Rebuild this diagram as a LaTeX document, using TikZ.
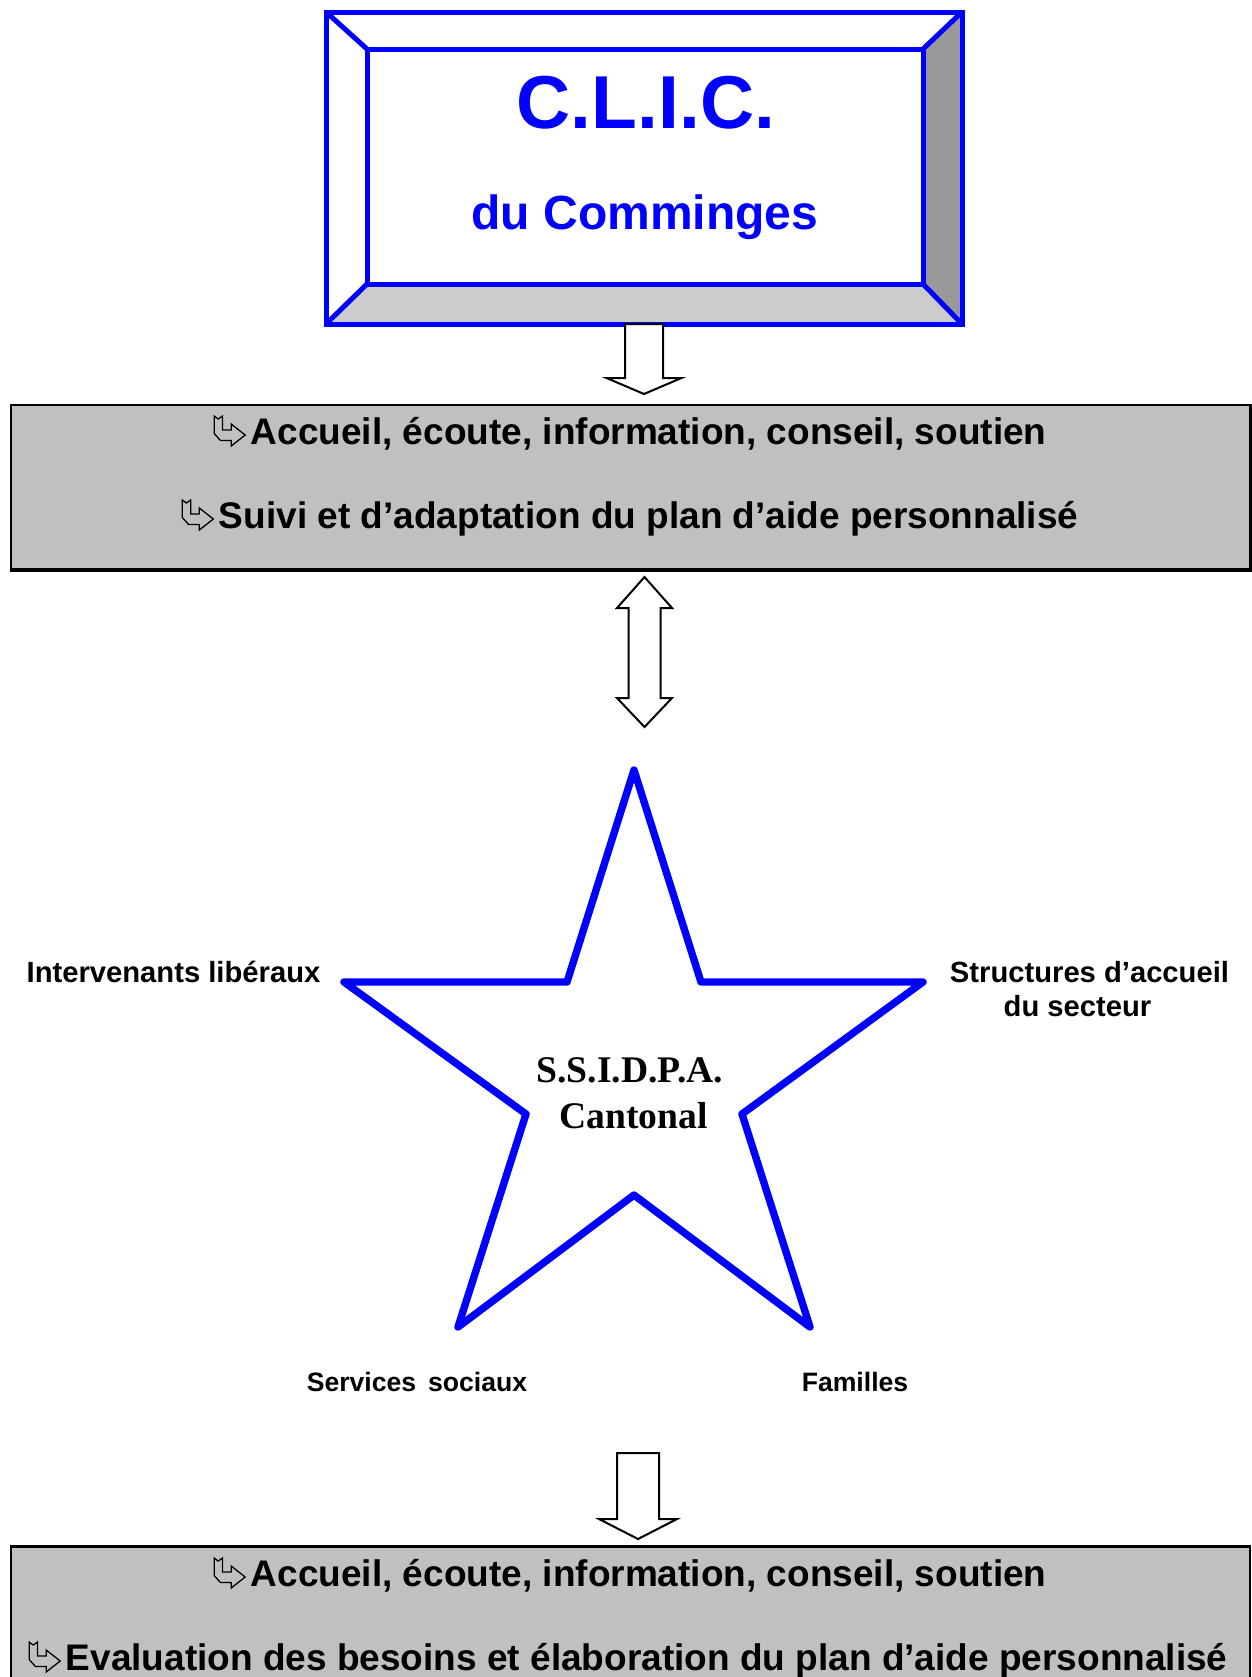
\documentclass[tikz,border=0pt]{standalone}
\usepackage{fontspec}
\setmainfont{Liberation Sans}
\newfontfamily\serifbf{Liberation Serif}
\definecolor{pureblue}{RGB}{0,0,255}
\definecolor{boxgray}{RGB}{192,192,192}
\definecolor{bevlight}{RGB}{204,204,204}
\definecolor{bevdark}{RGB}{153,153,153}
\newcommand{\wgarrow}{\tikz[x=0.5pt,y=0.5pt,baseline=0pt,line width=0.65pt,line join=miter]\draw (0,28)--(4,25)--(8.4,28)--(8.4,14)--(17,14)--(17,20)--(31,9)--(17,-2)--(17,3.6)--(6.2,3.6)--(0,10.5)--cycle;}
\begin{document}
\begin{tikzpicture}[x=0.5pt,y=-0.5pt,
  frame/.style={rectangle,inner sep=0pt,outer sep=0pt},
  bluebox/.style={draw=pureblue,line width=2.5pt,line join=miter},
  blockarrow/.style={draw=black,fill=white,line width=1pt,line join=miter},
  graybox/.style={rectangle,draw=black,fill=boxgray,line width=1pt,inner sep=0pt,outer sep=0pt},
  graytext/.style={anchor=base,inner sep=0pt,font=\fontsize{18.5pt}{22pt}\selectfont\bfseries},
  lbl/.style={anchor=base,inner sep=0pt,font=\fontsize{14.6pt}{17pt}\selectfont\bfseries},
  smalllbl/.style={anchor=base,inner sep=0pt,font=\fontsize{13.3pt}{16pt}\selectfont\bfseries},
  startext/.style={anchor=base,inner sep=0pt,font=\fontsize{18.8pt}{22pt}\selectfont\serifbf\bfseries}]
\useasboundingbox[fill=white] (0,0) rectangle (1252,1677);

% ---- C.L.I.C. framed box ----
\node[frame,minimum width=318pt,minimum height=156pt] (clicouter) at (644,168) {};
\node[frame,minimum width=278pt,minimum height=117.5pt] (clicinner) at (645,166.5) {};
\fill[bevlight] (clicouter.south west) -- (clicinner.south west) -- (clicinner.south east) -- (clicouter.south east) -- cycle;
\fill[bevdark] (clicouter.north east) -- (clicinner.north east) -- (clicinner.south east) -- (clicouter.south east) -- cycle;
\draw[bluebox] (clicouter.north west) rectangle (clicouter.south east);
\draw[bluebox] (clicinner.north west) rectangle (clicinner.south east);
\draw[bluebox] (clicouter.north west) -- (clicinner.north west);
\draw[bluebox] (clicouter.north east) -- (clicinner.north east);
\draw[bluebox] (clicouter.south west) -- (clicinner.south west);
\draw[bluebox] (clicouter.south east) -- (clicinner.south east);
\node[anchor=base,inner sep=0pt,text=pureblue,font=\fontsize{37.5pt}{41pt}\selectfont\bfseries] (clictitle) at (646,128) {C.L.I.C.};
\node[anchor=base,inner sep=0pt,text=pureblue,font=\fontsize{24pt}{28pt}\selectfont\bfseries] (clicsub) at (645,229) {du Comminges};

% ---- arrow 1 ----
\coordinate (a1) at (clicouter.south);
\draw[blockarrow] (a1) ++(-19,0) -- ++(0,54) -- ++(-18.5,0) -- ++(37.5,16) -- ++(37.5,-16) -- ++(-18.5,0) -- ++(0,-54) -- cycle;

% ---- gray box 1 ----
\node[graybox,minimum width=619.5pt,minimum height=82pt] (box1) at (630.5,487) {};
\draw[line width=1.5pt] ([xshift=0.9pt,yshift=0.5pt]box1.north east) -- ([xshift=0.9pt,yshift=-0.9pt]box1.south east) -- ([xshift=-0.5pt,yshift=-0.9pt]box1.south west);
\node[graytext] (b1l1) at (630,444) {\wgarrow\hspace{2.5pt}Accueil, écoute, information, conseil, soutien};
\node[graytext] (b1l2) at (630,528) {\wgarrow\hspace{2.5pt}Suivi et d’adaptation du plan d’aide personnalisé};

% ---- double arrow ----
\coordinate (d1) at (644.5,577);
\draw[blockarrow] (d1) -- ++(27.5,31) -- ++(-11.5,0) -- ++(0,90) -- ++(11.5,0) -- ++(-27.5,29) -- ++(-27.5,-29) -- ++(11.5,0) -- ++(0,-90) -- ++(-11.5,0) -- cycle;

% ---- star ----
\coordinate (starc) at (634,1090);
\draw[pureblue,line width=3.7pt,line join=round] (634,770) -- (701,982) -- (923,982) -- (742,1114) -- (810,1327) -- (634,1195) -- (458,1327) -- (526,1114) -- (344,982) -- (567,982) -- cycle;
\node[startext] (ss1) at (630,1082) {S.S.I.D.P.A.};
\node[startext] (ss2) at (633.5,1128) {Cantonal};

% ---- labels ----
\node[lbl] (lib) at (173.5,982) {Intervenants libéraux};
\node[lbl] (struct1) at (1089.5,982) {Structures d’accueil};
\node[lbl] (struct2) at (1077.5,1016) {du secteur};
\node[smalllbl] (soc) at (417,1391) {Services\hspace{0.45em}sociaux};
\node[smalllbl] (fam) at (855,1391) {Familles};

% ---- arrow 2 ----
\coordinate (a2) at (638,1453);
\draw[blockarrow] (a2) ++(-21,0) -- ++(0,66) -- ++(-18,0) -- ++(39,20) -- ++(39,-20) -- ++(-18,0) -- ++(0,-66) -- cycle;

% ---- gray box 2 ----
\node[graybox,minimum width=619.5pt,minimum height=100pt] (box2) at (630.5,1646) {};
\draw[line width=1.5pt] ([xshift=-0.5pt]box2.north west) -- ([xshift=0.5pt]box2.north east);
\node[graytext] (b2l1) at (630,1586) {\wgarrow\hspace{2.5pt}Accueil, écoute, information, conseil, soutien};
\node[graytext] (b2l2) at (628,1670) {\wgarrow\hspace{2.5pt}Evaluation des besoins et élaboration du plan d’aide personnalisé};
\end{tikzpicture}
\end{document}
